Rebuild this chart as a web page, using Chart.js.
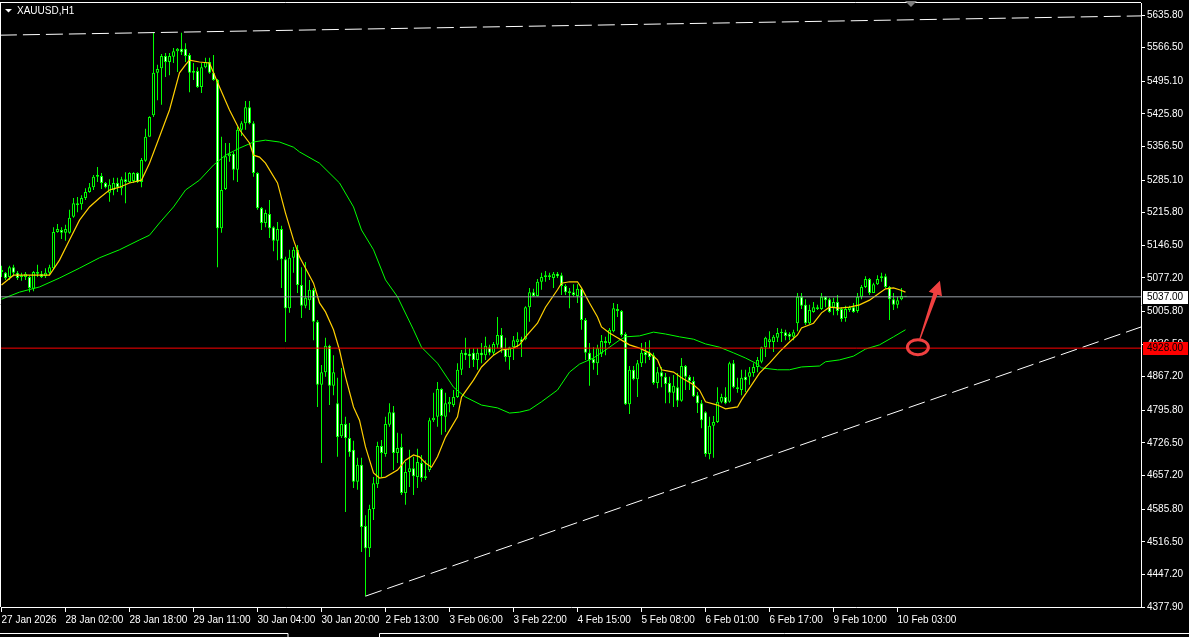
<!DOCTYPE html>
<html>
<head>
<meta charset="utf-8">
<title>XAUUSD,H1</title>
<script src="https://cdn.jsdelivr.net/npm/chart.js@4.4.1/dist/chart.umd.min.js"></script>
<style>
  html, body { margin: 0; padding: 0; background: #000; overflow: hidden; }
  #wrap { width: 1189px; height: 637px; }
</style>
</head>
<body>
<div id="wrap"><canvas id="chart" width="1189" height="637"></canvas></div>
<script>
const symbolTitle = "XAUUSD,H1";

// H1 candles, one per bar index (0 = first bar on screen)
const opens = [
  5090, 5088, 5079, 5100, 5088, 5079, 5079, 5079, 5054, 5090,
  5086, 5081, 5088, 5098, 5175, 5179, 5173, 5173, 5207, 5236,
  5234, 5247, 5260, 5270, 5292, 5294, 5279, 5258, 5264, 5279,
  5268, 5287, 5281, 5283, 5300, 5281, 5326, 5377, 5423, 5513,
  5523, 5549, 5536, 5547, 5559, 5564, 5564, 5551, 5513, 5517,
  5483, 5525, 5536, 5513, 5498, 5183, 5266, 5336, 5341, 5307,
  5392, 5406, 5440, 5406, 5300, 5226, 5194, 5213, 5185, 5156,
  5181, 5117, 5013, 5120, 5137, 5062, 5018, 5030, 5052, 4984,
  4850, 4877, 4933, 4848, 4811, 4741, 4767, 4737, 4712, 4644,
  4680, 4550, 4503, 4586, 4639, 4720, 4703, 4765, 4792, 4705,
  4718, 4620, 4665, 4673, 4654, 4684, 4652, 4669, 4775, 4782,
  4841, 4782, 4809, 4807, 4824, 4882, 4918, 4916, 4918, 4903,
  4918, 4913, 4930, 4918, 4935, 4956, 4926, 4909, 4930, 4941,
  4947, 4947, 5015, 5047, 5039, 5069, 5079, 5083, 5077, 5086,
  5083, 5060, 5049, 5047, 5039, 5054, 4988, 4918, 4905, 4896,
  4916, 4943, 4939, 4964, 5011, 5007, 4958, 4809, 4882, 4862,
  4896, 4920, 4918, 4913, 4854, 4877, 4867, 4854, 4833, 4845,
  4816, 4890, 4867, 4858, 4828, 4811, 4792, 4703, 4763, 4771,
  4814, 4824, 4814, 4896, 4845, 4839, 4867, 4867, 4875, 4888,
  4899, 4930, 4941, 4941, 4950, 4960, 4962, 4958, 4952, 4981,
  5037, 5020, 4981, 5005, 5015, 5011, 5037, 5032, 5015, 5026,
  5011, 4992, 5009, 5015, 5007, 5037, 5058, 5075, 5045, 5064,
  5081, 5081, 5058, 5032, 5020, 5032, 5039
];
const highs = [
  5103, 5090, 5103, 5105, 5092, 5088, 5090, 5083, 5092, 5105,
  5092, 5098, 5105, 5185, 5192, 5185, 5190, 5222, 5247, 5249,
  5253, 5268, 5279, 5296, 5313, 5300, 5281, 5287, 5290, 5290,
  5292, 5302, 5302, 5302, 5302, 5332, 5394, 5421, 5598, 5530,
  5553, 5555, 5555, 5566, 5566, 5598, 5576, 5555, 5534, 5525,
  5534, 5545, 5545, 5551, 5500, 5377, 5364, 5364, 5345, 5398,
  5410, 5453, 5453, 5410, 5302, 5228, 5222, 5243, 5187, 5196,
  5188, 5122, 5137, 5143, 5147, 5100, 5111, 5073, 5056, 4988,
  4892, 4950, 4935, 4913, 4865, 4886, 4782, 4769, 4731, 4695,
  4695, 4573, 4595, 4654, 4729, 4733, 4782, 4811, 4805, 4748,
  4746, 4686, 4712, 4697, 4714, 4701, 4690, 4780, 4833, 4856,
  4843, 4833, 4824, 4839, 4896, 4924, 4950, 4928, 4928, 4928,
  4939, 4952, 4935, 4941, 4994, 4971, 4950, 4931, 4954, 4962,
  4952, 5017, 5056, 5054, 5075, 5088, 5092, 5088, 5090, 5090,
  5088, 5064, 5056, 5064, 5064, 5056, 4992, 4939, 4930, 4935,
  4956, 4952, 4971, 5024, 5022, 5009, 4962, 4890, 4890, 4903,
  4939, 4941, 4945, 4918, 4888, 4888, 4875, 4867, 4871, 4875,
  4907, 4892, 4871, 4867, 4835, 4818, 4794, 4782, 4784, 4845,
  4831, 4845, 4899, 4903, 4865, 4882, 4882, 4888, 4896, 4909,
  4931, 4952, 4964, 4956, 4971, 4969, 4967, 4962, 4967, 5045,
  5045, 5032, 5020, 5026, 5020, 5045, 5039, 5035, 5035, 5041,
  5015, 5018, 5018, 5024, 5045, 5062, 5081, 5077, 5067, 5083,
  5088, 5086, 5060, 5045, 5037, 5056, 5039
];
const lows = [
  5079, 5073, 5073, 5081, 5073, 5071, 5073, 5047, 5049, 5079,
  5077, 5077, 5083, 5094, 5173, 5160, 5156, 5171, 5205, 5217,
  5222, 5243, 5258, 5264, 5281, 5266, 5268, 5239, 5253, 5260,
  5253, 5236, 5279, 5279, 5279, 5270, 5324, 5377, 5419, 5455,
  5445, 5504, 5508, 5534, 5515, 5551, 5536, 5472, 5498, 5481,
  5470, 5523, 5511, 5496, 5100, 5173, 5264, 5324, 5285, 5281,
  5379, 5392, 5404, 5292, 5222, 5179, 5185, 5162, 5134, 5115,
  5056, 4941, 5003, 5088, 5045, 4992, 5013, 5009, 4945, 4803,
  4684, 4867, 4807, 4828, 4697, 4737, 4580, 4697, 4631, 4627,
  4495, 4401, 4484, 4563, 4631, 4654, 4697, 4761, 4669, 4684,
  4616, 4595, 4633, 4616, 4631, 4644, 4648, 4665, 4771, 4761,
  4744, 4750, 4792, 4803, 4822, 4871, 4903, 4886, 4888, 4882,
  4896, 4903, 4913, 4913, 4928, 4918, 4899, 4882, 4903, 4930,
  4909, 4945, 4984, 5037, 5037, 5052, 5069, 5073, 5056, 5077,
  5041, 5041, 5013, 5037, 5024, 4967, 4903, 4848, 4882, 4871,
  4909, 4913, 4935, 4962, 4994, 4952, 4807, 4788, 4860, 4824,
  4888, 4896, 4903, 4850, 4843, 4845, 4811, 4811, 4803, 4803,
  4814, 4839, 4839, 4824, 4790, 4758, 4697, 4692, 4695, 4769,
  4811, 4809, 4812, 4843, 4833, 4828, 4835, 4850, 4867, 4877,
  4896, 4909, 4928, 4920, 4941, 4941, 4945, 4945, 4945, 4964,
  5011, 4977, 4979, 5003, 5009, 5009, 5015, 5003, 4998, 4998,
  4984, 4984, 5005, 5003, 5003, 5032, 5056, 5041, 5045, 5062,
  5069, 5056, 4988, 5009, 5013, 5030, 5037
];
const closes = [
  5094, 5077, 5100, 5088, 5077, 5083, 5086, 5056, 5090, 5086,
  5079, 5088, 5100, 5175, 5181, 5173, 5181, 5205, 5236, 5232,
  5247, 5260, 5270, 5292, 5296, 5279, 5270, 5275, 5279, 5270,
  5287, 5281, 5300, 5300, 5281, 5328, 5377, 5419, 5513, 5521,
  5549, 5536, 5549, 5559, 5564, 5557, 5549, 5513, 5517, 5483,
  5525, 5536, 5513, 5498, 5183, 5264, 5336, 5341, 5307, 5392,
  5406, 5440, 5406, 5300, 5226, 5194, 5215, 5183, 5156, 5181,
  5117, 5013, 5120, 5137, 5062, 5018, 5035, 5052, 4984, 4850,
  4877, 4933, 4848, 4877, 4739, 4767, 4737, 4707, 4644, 4680,
  4548, 4503, 4586, 4641, 4720, 4705, 4767, 4792, 4705, 4716,
  4620, 4665, 4673, 4656, 4686, 4652, 4656, 4775, 4780, 4841,
  4784, 4811, 4814, 4824, 4882, 4918, 4913, 4911, 4903, 4918,
  4913, 4933, 4918, 4937, 4956, 4926, 4909, 4930, 4945, 4947,
  4941, 5015, 5047, 5039, 5069, 5079, 5083, 5079, 5086, 5081,
  5060, 5047, 5045, 5041, 5054, 4988, 4918, 4903, 4896, 4928,
  4943, 4939, 4967, 5013, 5007, 4956, 4809, 4882, 4862, 4896,
  4918, 4913, 4909, 4854, 4877, 4867, 4852, 4833, 4848, 4816,
  4890, 4867, 4858, 4826, 4811, 4775, 4703, 4763, 4771, 4814,
  4824, 4811, 4896, 4845, 4841, 4865, 4860, 4877, 4888, 4903,
  4930, 4950, 4947, 4952, 4960, 4962, 4954, 4952, 4962, 5037,
  5018, 4981, 5009, 5015, 5011, 5037, 5030, 5005, 5026, 5007,
  4990, 5011, 5015, 5005, 5037, 5058, 5075, 5045, 5064, 5075,
  5077, 5058, 5032, 5020, 5030, 5039, 5037
];

// moving averages (bar index -> price)
const fastMaBars = [0, 3, 12, 14.5, 17, 19.5, 22, 24.5, 27, 29.5, 32, 35, 37, 39.5, 42, 44.5, 46, 47, 49.5, 52,
  53, 54.5, 57, 59.5, 62, 63, 64.5, 66, 69, 71, 73, 74.5, 78, 79.5, 81, 83, 84.5, 86, 88, 89.5,
  91, 93, 94.5, 96, 99, 101, 103, 104.5, 106, 107.5, 109, 111, 114, 115, 118, 120, 123, 125, 128, 129.5,
  131, 134, 136, 139, 140, 142, 144, 145, 147, 149, 150, 152, 154, 155, 157, 159.5, 162, 164, 165, 168,
  170, 173, 174.5, 176, 179, 181, 184, 185, 187, 189.5, 192, 194.5, 197, 199, 200, 203, 205, 207, 209.5, 212,
  214.5, 217, 219.5, 221, 223, 224.5, 226];
const fastMa = [5062, 5083, 5083, 5115, 5158, 5200, 5228, 5247, 5264, 5270, 5279, 5285, 5321, 5377, 5434, 5513, 5530, 5540, 5536, 5534,
  5513, 5483, 5434, 5392, 5364, 5338, 5334, 5321, 5279, 5215, 5158, 5122, 5066, 5024, 5005, 4967, 4924, 4867, 4803, 4775,
  4718, 4663, 4652, 4654, 4669, 4690, 4701, 4697, 4684, 4675, 4697, 4739, 4782, 4824, 4860, 4888, 4913, 4924, 4928, 4935,
  4952, 4981, 5015, 5052, 5066, 5069, 5069, 5056, 5024, 4994, 4973, 4960, 4950, 4945, 4935, 4928, 4918, 4903, 4882, 4877,
  4865, 4850, 4839, 4814, 4807, 4799, 4803, 4818, 4843, 4875, 4896, 4920, 4941, 4956, 4971, 4981, 5003, 5015, 5013, 5015,
  5020, 5030, 5045, 5054, 5056, 5052, 5047];
const slowMaBars = [0, 4.5, 9.5, 14.5, 19.5, 24.5, 29.5, 34.5, 37, 39.5, 43, 46, 49.5, 53, 56, 59.5, 63, 66, 69.5, 73,
  74.5, 79.5, 84.5, 88, 90, 93, 96, 99, 103, 105, 109, 113, 116, 120, 124, 127, 129.5, 132, 135, 139,
  142, 144.5, 148, 151, 154.5, 156, 159.5, 163, 166, 169.5, 173, 176, 179.5, 183, 186, 189, 190, 194, 197, 200,
  204.5, 206, 209.5, 213, 216, 219.5, 223, 226];
const slowMa = [5032, 5047, 5058, 5077, 5098, 5120, 5137, 5158, 5168, 5194, 5228, 5264, 5285, 5317, 5338, 5353, 5366, 5370, 5366, 5355,
  5345, 5321, 5279, 5228, 5179, 5137, 5073, 5037, 4967, 4930, 4896, 4845, 4824, 4807, 4801, 4790, 4792, 4797, 4814, 4839,
  4877, 4894, 4907, 4924, 4945, 4952, 4954, 4962, 4958, 4952, 4947, 4937, 4930, 4918, 4907, 4894, 4886, 4882, 4882, 4888,
  4890, 4899, 4903, 4911, 4926, 4935, 4952, 4967];

// axis labels
const timeTickBars = [0, 16, 32, 48, 64, 80, 96, 112, 128, 144, 160, 176, 192, 208, 224];
const timeTickLabels = ['27 Jan 2026', '28 Jan 02:00', '28 Jan 18:00', '29 Jan 11:00', '30 Jan 04:00',
  '30 Jan 20:00', '2 Feb 13:00', '3 Feb 06:00', '3 Feb 22:00', '4 Feb 15:00', '5 Feb 08:00',
  '6 Feb 01:00', '6 Feb 17:00', '9 Feb 10:00', '10 Feb 03:00'];
const priceTicks = [5635.8, 5566.5, 5495.1, 5425.8, 5356.5, 5285.1, 5215.8, 5146.5, 5077.2, 5005.8,
  4936.5, 4867.2, 4795.8, 4726.5, 4657.2, 4585.8, 4516.5, 4447.2, 4377.9];

// drawn objects
const bidPrice = 5037.0;
const levelPrice = 4928.0;
const upperTrendBars = [-0.4, 284.9];
const upperTrendPrices = [5593, 5634];
const lowerTrendBars = [91, 284.9];
const lowerTrendPrices = [4401, 4973];
const markCenter = { x: 229.1, y: 4930 };
const arrowFrom = { x: 229.5, y: 4945 };
const arrowTo = { x: 234.6, y: 5071 };

const fontFam = "'Liberation Sans', Arial, sans-serif";
const lime = '#00ff00';
const markRed = '#f04040';

const barIdx = opens.map((o, i) => i);
const pts = (xs, ys) => xs.map((x, i) => ({ x: x, y: ys[i] }));

const terminalLook = {
  id: 'terminalLook',
  beforeDraw(chart) {
    const ctx = chart.ctx;
    ctx.save();
    ctx.fillStyle = '#000';
    ctx.fillRect(0, 0, chart.width, chart.height);
    ctx.restore();
  },
  afterDraw(chart) {
    const { ctx, chartArea: a, scales: { x, y } } = chart;
    ctx.save();

    // frame top / left
    ctx.strokeStyle = '#fff';
    ctx.lineWidth = 1;
    ctx.beginPath();
    ctx.moveTo(0, a.top - 0.5);
    ctx.lineTo(a.right, a.top - 0.5);
    ctx.moveTo(a.left - 0.5, a.top - 1);
    ctx.lineTo(a.left - 0.5, a.bottom);
    ctx.stroke();

    // bottom tab strip
    ctx.beginPath();
    ctx.moveTo(0, 633.5); ctx.lineTo(288, 633.5);
    ctx.lineTo(288, 637);
    ctx.moveTo(379.5, 637); ctx.lineTo(379.5, 633.5); ctx.lineTo(chart.width, 633.5);
    ctx.stroke();

    // symbol title
    ctx.fillStyle = '#fff';
    ctx.beginPath();
    ctx.moveTo(5, 9); ctx.lineTo(12, 9); ctx.lineTo(8.5, 12.5);
    ctx.closePath();
    ctx.fill();
    ctx.font = '10px ' + fontFam;
    ctx.textBaseline = 'middle';
    ctx.textAlign = 'left';
    ctx.fillText(symbolTitle, 17, 11);

    // chart shift marker
    ctx.fillStyle = '#808080';
    ctx.beginPath();
    ctx.moveTo(905, 1); ctx.lineTo(917, 1); ctx.lineTo(911, 7);
    ctx.closePath();
    ctx.fill();

    // price boxes on the axis
    const box = (price, bg) => {
      const py = Math.round(y.getPixelForValue(price));
      ctx.fillStyle = bg;
      ctx.fillRect(a.right + 2, py - 6, chart.width - a.right - 3, 13);
      ctx.fillStyle = '#000';
      ctx.fillText(price.toFixed(2), a.right + 6, py + 0.5);
    };
    box(bidPrice, '#fff');
    box(levelPrice, '#ff0000');

    // red mark: ellipse + arrow
    ctx.beginPath();
    ctx.rect(a.left, a.top, a.right - a.left, a.bottom - a.top);
    ctx.clip();
    ctx.strokeStyle = markRed;
    ctx.fillStyle = markRed;
    ctx.lineWidth = 3;
    ctx.beginPath();
    ctx.ellipse(x.getPixelForValue(markCenter.x), y.getPixelForValue(markCenter.y), 10.5, 7.5, 0, 0, Math.PI * 2);
    ctx.stroke();

    const tx = x.getPixelForValue(arrowFrom.x), ty = y.getPixelForValue(arrowFrom.y);
    const hx = x.getPixelForValue(arrowTo.x), hy = y.getPixelForValue(arrowTo.y);
    const len = Math.hypot(hx - tx, hy - ty);
    const ux = (hx - tx) / len, uy = (hy - ty) / len;
    const nx = -uy, ny = ux;
    const headLen = 14, headW = 7;
    const bx = hx - ux * headLen, by = hy - uy * headLen;
    ctx.beginPath();
    ctx.moveTo(tx + nx * 0.6, ty + ny * 0.6);
    ctx.lineTo(bx + nx * 2.2, by + ny * 2.2);
    ctx.lineTo(bx + nx * headW, by + ny * headW);
    ctx.lineTo(hx, hy);
    ctx.lineTo(bx - nx * headW, by - ny * headW);
    ctx.lineTo(bx - nx * 2.2, by - ny * 2.2);
    ctx.lineTo(tx - nx * 0.6, ty - ny * 0.6);
    ctx.closePath();
    ctx.fill();

    ctx.restore();
  }
};

new Chart(document.getElementById('chart'), {
  type: 'bar',
  data: {
    datasets: [
      {
        type: 'line', label: 'level', data: [{ x: -1, y: levelPrice }, { x: 290, y: levelPrice }],
        borderColor: '#ff0000', borderWidth: 1, pointRadius: 0
      },
      {
        type: 'line', label: 'bid', data: [{ x: -1, y: bidPrice }, { x: 290, y: bidPrice }],
        borderColor: '#9aa0a8', borderWidth: 1, pointRadius: 0
      },
      {
        type: 'line', label: 'upper trend', data: pts(upperTrendBars, upperTrendPrices),
        borderColor: '#ffffff', borderWidth: 1, borderDash: [17, 6], pointRadius: 0
      },
      {
        type: 'line', label: 'lower trend', data: pts(lowerTrendBars, lowerTrendPrices),
        borderColor: '#ffffff', borderWidth: 1, borderDash: [17, 6], pointRadius: 0
      },
      {
        type: 'line', label: 'MA fast', data: pts(fastMaBars, fastMa),
        borderColor: '#ffd000', borderWidth: 1.2, pointRadius: 0, tension: 0
      },
      {
        type: 'line', label: 'MA slow', data: pts(slowMaBars, slowMa),
        borderColor: lime, borderWidth: 1, pointRadius: 0, tension: 0
      },
      {
        label: 'bodies',
        data: barIdx.map(i => ({ x: i, y: [opens[i], closes[i]] })),
        backgroundColor: barIdx.map(i => closes[i] >= opens[i] ? '#000000' : '#ffffff'),
        borderColor: lime, borderWidth: 1, borderSkipped: false,
        barThickness: 3, grouped: false, minBarLength: 1, inflateAmount: 0
      },
      {
        label: 'wicks',
        data: barIdx.map(i => ({ x: i, y: [lows[i], highs[i]] })),
        backgroundColor: lime, borderWidth: 0,
        barThickness: 1, grouped: false, inflateAmount: 0
      }
    ]
  },
  options: {
    responsive: false,
    animation: false,
    devicePixelRatio: 1,
    layout: { padding: { top: 3, left: 1, right: 0, bottom: 0 } },
    plugins: {
      legend: { display: false },
      tooltip: { enabled: false }
    },
    scales: {
      x: {
        type: 'linear',
        min: -0.125,
        max: 284.875,
        offset: false,
        grid: { display: true, drawOnChartArea: false, drawTicks: true, tickLength: 5, color: '#ffffff', offset: false },
        border: { display: true, color: '#ffffff', width: 1 },
        ticks: {
          color: '#ffffff', font: { family: fontFam, size: 10 }, padding: 2,
          align: 'start', maxRotation: 0, minRotation: 0, autoSkip: false,
          callback: (v, i) => timeTickLabels[i] ?? ''
        },
        afterBuildTicks: s => { s.ticks = timeTickBars.map(v => ({ value: v })); },
        afterFit: s => { s.height = 30; s.paddingLeft = 0; s.paddingRight = 0; }
      },
      y: {
        type: 'linear',
        position: 'right',
        min: 4377.9,
        max: 5661.4,
        grid: { display: true, drawOnChartArea: false, drawTicks: true, tickLength: 4, color: '#ffffff' },
        border: { display: true, color: '#ffffff', width: 1 },
        ticks: {
          color: '#ffffff', font: { family: fontFam, size: 10 }, padding: 2, autoSkip: false,
          callback: v => Number(v).toFixed(2)
        },
        afterBuildTicks: s => { s.ticks = priceTicks.map(v => ({ value: v })); },
        afterFit: s => { s.width = 48; s.paddingTop = 0; s.paddingBottom = 0; }
      }
    }
  },
  plugins: [terminalLook]
});
</script>
</body>
</html>
